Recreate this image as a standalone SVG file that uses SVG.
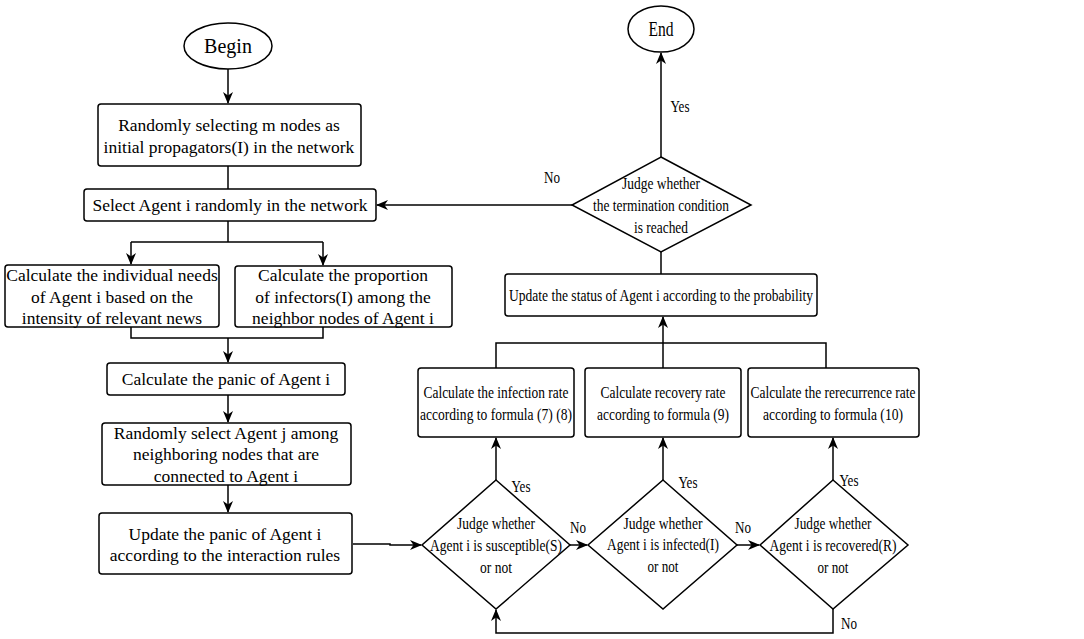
<svg xmlns="http://www.w3.org/2000/svg" width="1084" height="639" viewBox="0 0 1084 639">
<style>
.n{fill:#fff;stroke:#000;stroke-width:1.5}
.c{fill:none;stroke:#000;stroke-width:1.5}
text{font-family:"Liberation Serif","Times New Roman",serif;font-size:17.5px;fill:#000;text-anchor:middle}
.big{font-size:20px}
</style>
<defs>
<marker id="a" viewBox="0 0 12 10" refX="11" refY="5" markerWidth="12" markerHeight="10" markerUnits="userSpaceOnUse" orient="auto">
<path d="M0,0 L12,5 L0,10 L3.5,5 Z" fill="#000"/>
</marker>
</defs>
<rect width="1084" height="639" fill="#fff"/>
<g id="connectors">
<line class="c" x1="228" y1="69" x2="228" y2="103" marker-end="url(#a)"/>
<line class="c" x1="228" y1="166" x2="228" y2="189"/>
<polyline class="c" points="228,221 228,242"/>
<polyline class="c" points="131,242 323,242"/>
<line class="c" x1="131" y1="242" x2="131" y2="264" marker-end="url(#a)"/>
<line class="c" x1="323" y1="242" x2="323" y2="265" marker-end="url(#a)"/>
<polyline class="c" points="131,327 131,338 323,338 323,327"/>
<line class="c" x1="228" y1="338" x2="228" y2="362" marker-end="url(#a)"/>
<line class="c" x1="228" y1="395" x2="228" y2="422" marker-end="url(#a)"/>
<line class="c" x1="228" y1="485" x2="228" y2="512" marker-end="url(#a)"/>
<polyline class="c" points="353,544 390,544 390,545 421,545" marker-end="url(#a)"/>
<line class="c" x1="570" y1="545" x2="587" y2="545" marker-end="url(#a)"/>
<line class="c" x1="737" y1="545" x2="759" y2="545" marker-end="url(#a)"/>
<line class="c" x1="496" y1="480" x2="496" y2="438" marker-end="url(#a)"/>
<line class="c" x1="663" y1="480" x2="663" y2="438" marker-end="url(#a)"/>
<line class="c" x1="833" y1="480" x2="833" y2="438" marker-end="url(#a)"/>
<polyline class="c" points="496,368 496,343 826,343 826,368"/>
<line class="c" x1="663" y1="368" x2="663" y2="317" marker-end="url(#a)"/>
<line class="c" x1="661" y1="274" x2="661" y2="252"/>
<line class="c" x1="661" y1="157" x2="661" y2="53" marker-end="url(#a)"/>
<line class="c" x1="572" y1="205" x2="377" y2="205" marker-end="url(#a)"/>
<polyline class="c" points="833,609 833,633 496,633 496,610" marker-end="url(#a)"/>
<text x="680" y="112" textLength="19" lengthAdjust="spacingAndGlyphs">Yes</text>
<text x="552" y="183" textLength="16" lengthAdjust="spacingAndGlyphs">No</text>
<text x="521" y="492" textLength="19" lengthAdjust="spacingAndGlyphs">Yes</text>
<text x="578" y="533" textLength="16" lengthAdjust="spacingAndGlyphs">No</text>
<text x="688" y="488" textLength="19" lengthAdjust="spacingAndGlyphs">Yes</text>
<text x="743" y="533" textLength="16" lengthAdjust="spacingAndGlyphs">No</text>
<text x="849" y="486" textLength="19" lengthAdjust="spacingAndGlyphs">Yes</text>
<text x="849" y="629" textLength="16" lengthAdjust="spacingAndGlyphs">No</text>
</g>
<g id="begin">
<ellipse class="n" cx="228" cy="46" rx="44" ry="23"/>
<text class="big" x="228" y="53">Begin</text>
</g>
<g id="init">
<rect class="n" x="98" y="104" width="263" height="62" rx="3"/>
<text x="229" y="131">Randomly selecting m nodes as</text>
<text x="229" y="153">initial propagators(I) in the network</text>
</g>
<g id="select">
<rect class="n" x="84" y="189" width="292" height="32" rx="3"/>
<text x="230" y="211">Select Agent i randomly in the network</text>
</g>
<g id="needs">
<rect class="n" x="5" y="265" width="214" height="62" rx="3"/>
<text x="112" y="281">Calculate the individual needs</text>
<text x="112" y="303">of Agent i based on the</text>
<text x="112" y="324">intensity of relevant news</text>
</g>
<g id="proportion">
<rect class="n" x="235" y="266" width="217" height="61" rx="3"/>
<text x="343" y="281">Calculate the proportion</text>
<text x="343" y="303">of infectors(I) among the</text>
<text x="343" y="324">neighbor nodes of Agent i</text>
</g>
<g id="panic">
<rect class="n" x="107" y="363" width="238" height="32" rx="3"/>
<text x="226" y="385">Calculate the panic of Agent i</text>
</g>
<g id="selectj">
<rect class="n" x="102" y="423" width="249" height="62" rx="3"/>
<text x="226" y="439">Randomly select Agent j among</text>
<text x="226" y="460">neighboring nodes that are</text>
<text x="226" y="482">connected to Agent i</text>
</g>
<g id="updatepanic">
<rect class="n" x="99" y="513" width="253" height="61" rx="3"/>
<text x="225" y="540">Update the panic of Agent i</text>
<text x="225" y="561">according to the interaction rules</text>
</g>
<g id="d1">
<polygon class="n" points="496,480 570,545 496,609 422,545"/>
<text x="496" y="529" textLength="78" lengthAdjust="spacingAndGlyphs">Judge whether</text>
<text x="496" y="551" textLength="132" lengthAdjust="spacingAndGlyphs">Agent i is susceptible(S)</text>
<text x="496" y="573" textLength="32" lengthAdjust="spacingAndGlyphs">or not</text>
</g>
<g id="d2">
<polygon class="n" points="663,480 737,545 663,609 588,545"/>
<text x="663" y="529" textLength="79" lengthAdjust="spacingAndGlyphs">Judge whether</text>
<text x="663" y="550" textLength="112" lengthAdjust="spacingAndGlyphs">Agent i is infected(I)</text>
<text x="663" y="572" textLength="31" lengthAdjust="spacingAndGlyphs">or not</text>
</g>
<g id="d3">
<polygon class="n" points="833,480 908,545 833,609 760,545"/>
<text x="833" y="529" textLength="77" lengthAdjust="spacingAndGlyphs">Judge whether</text>
<text x="833" y="551" textLength="127" lengthAdjust="spacingAndGlyphs">Agent i is recovered(R)</text>
<text x="833" y="573" textLength="31" lengthAdjust="spacingAndGlyphs">or not</text>
</g>
<g id="infection">
<rect class="n" x="418" y="368" width="156" height="69" rx="3"/>
<text x="496" y="398" textLength="145" lengthAdjust="spacingAndGlyphs">Calculate the infection rate</text>
<text x="496" y="420" textLength="152" lengthAdjust="spacingAndGlyphs">according to formula (7) (8)</text>
</g>
<g id="recovery">
<rect class="n" x="585" y="368" width="156" height="69" rx="3"/>
<text x="663" y="398" textLength="125" lengthAdjust="spacingAndGlyphs">Calculate recovery rate</text>
<text x="663" y="420" textLength="132" lengthAdjust="spacingAndGlyphs">according to formula (9)</text>
</g>
<g id="recurrence">
<rect class="n" x="748" y="368" width="171" height="69" rx="3"/>
<text x="833" y="398" textLength="165" lengthAdjust="spacingAndGlyphs">Calculate the rerecurrence rate</text>
<text x="833" y="420" textLength="140" lengthAdjust="spacingAndGlyphs">according to formula (10)</text>
</g>
<g id="status">
<rect class="n" x="505" y="274" width="312" height="42" rx="3"/>
<text x="661" y="301" textLength="304" lengthAdjust="spacingAndGlyphs">Update the status of Agent i according to the probability</text>
</g>
<g id="dterm">
<polygon class="n" points="661,157 751,205 661,252 572,205"/>
<text x="661" y="189" textLength="78" lengthAdjust="spacingAndGlyphs">Judge whether</text>
<text x="661" y="211" textLength="136" lengthAdjust="spacingAndGlyphs">the termination condition</text>
<text x="661" y="233" textLength="54" lengthAdjust="spacingAndGlyphs">is reached</text>
</g>
<g id="end">
<ellipse class="n" cx="661" cy="29" rx="33" ry="23"/>
<text class="big" x="661" y="36" textLength="25" lengthAdjust="spacingAndGlyphs">End</text>
</g>
</svg>
